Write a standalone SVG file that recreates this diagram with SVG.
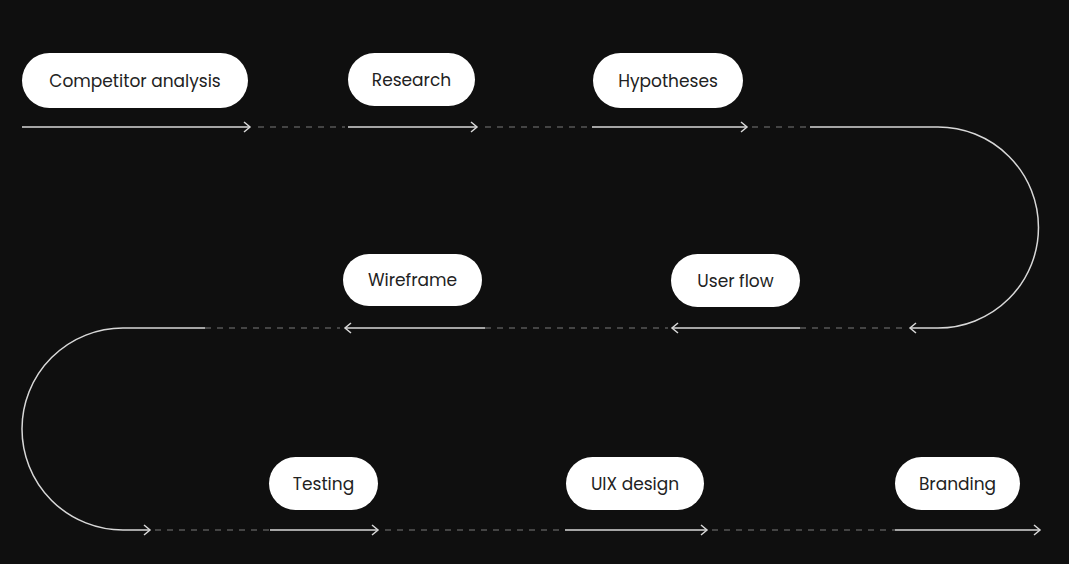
<svg xmlns="http://www.w3.org/2000/svg" width="1069" height="564" viewBox="0 0 1069 564">
<style>
.n rect{fill:#fff}
.n text{font-family:"Poppins","Lato","Liberation Sans",sans-serif;font-size:17px;fill:#222;text-anchor:middle;dominant-baseline:central}
.s{stroke:#d8d8d8;stroke-width:1.5;fill:none}
.d{stroke:#7a7a7a;stroke-width:1.2;fill:none;stroke-dasharray:6 6}
</style>
<defs><marker id="a" markerWidth="10" markerHeight="12" refX="8" refY="6" orient="auto" markerUnits="userSpaceOnUse"><path d="M2,1 L8,6 L2,11" fill="none" stroke="#d8d8d8" stroke-width="1.5"/></marker></defs>
<rect width="1069" height="564" fill="#0f0f0f"/>
<g id="connectors">
<path class="s" d="M22,127 H250" marker-end="url(#a)"/>
<path class="d" d="M258,127 H345"/>
<path class="s" d="M348,127 H477" marker-end="url(#a)"/>
<path class="d" d="M485,127 H590"/>
<path class="s" d="M592,127 H747" marker-end="url(#a)"/>
<path class="d" d="M752,127 H810"/>
<path class="s" d="M810,127 H938 A100.5,100.5 0 0 1 938,328 H910" marker-end="url(#a)"/>
<path class="d" d="M800,328 H905"/>
<path class="s" d="M800,328 H672" marker-end="url(#a)"/>
<path class="d" d="M485,328 H668"/>
<path class="s" d="M485,328 H345" marker-end="url(#a)"/>
<path class="d" d="M205,328 H340"/>
<path class="s" d="M205,328 H123 A101,101 0 0 0 123,530 H150" marker-end="url(#a)"/>
<path class="d" d="M155,530 H270"/>
<path class="s" d="M270,530 H378" marker-end="url(#a)"/>
<path class="d" d="M385,530 H565"/>
<path class="s" d="M565,530 H707" marker-end="url(#a)"/>
<path class="d" d="M712,530 H895"/>
<path class="s" d="M895,530 H1040" marker-end="url(#a)"/>
</g>
<g id="n1" class="n"><rect x="22" y="53" width="226" height="55" rx="27.5"/><text x="135" y="80.5">Competitor analysis</text></g>
<g id="n2" class="n"><rect x="348" y="53" width="127" height="53" rx="26.5"/><text x="411.5" y="79.5">Research</text></g>
<g id="n3" class="n"><rect x="593" y="53" width="150" height="55" rx="27.5"/><text x="668" y="80.5">Hypotheses</text></g>
<g id="n4" class="n"><rect x="671" y="254" width="129" height="53" rx="26.5"/><text x="735.5" y="280.5">User flow</text></g>
<g id="n5" class="n"><rect x="343" y="254" width="139" height="52" rx="26"/><text x="412.5" y="280">Wireframe</text></g>
<g id="n6" class="n"><rect x="269" y="457" width="109" height="53" rx="26.5"/><text x="323.5" y="483.5">Testing</text></g>
<g id="n7" class="n"><rect x="566" y="457" width="138" height="53" rx="26.5"/><text x="635" y="483.5">UIX design</text></g>
<g id="n8" class="n"><rect x="895" y="457" width="125" height="53" rx="26.5"/><text x="957.5" y="483.5">Branding</text></g>
</svg>
